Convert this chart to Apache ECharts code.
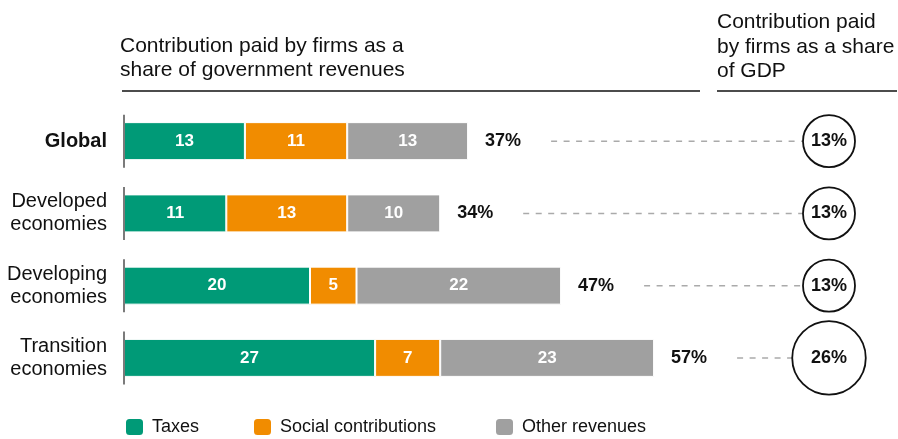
<!DOCTYPE html>
<html>
<head>
<meta charset="utf-8">
<script src="https://cdn.jsdelivr.net/npm/echarts@6/dist/echarts.min.js"></script>
<style>
html,body{margin:0;padding:0;background:#fff;}
#chart{width:898px;height:439px;}
</style>
</head>
<body>
<div id="chart"></div>
<script>
// ---- data ----
const categories = ['Global', 'Developed economies', 'Developing economies', 'Transition economies'];
const seriesNames = ['Taxes', 'Social contributions', 'Other revenues'];
const taxes = [13, 11, 20, 27];
const social = [11, 13, 5, 7];
const other = [13, 10, 22, 23];
const totals = [37, 34, 47, 57];
const gdpShare = [13, 13, 13, 26];
const leftTitle = 'Contribution paid by firms as a\nshare of government revenues';
const rightTitle = 'Contribution paid\nby firms as a share\nof GDP';

// ---- style / layout ----
const FONT = '"Liberation Sans", Arial, sans-serif';
const colors = ['#009a77', '#f18c00', '#a0a0a0'];
const CIRCLE_X = 829;
const BASE_SIZE = 52;
function circleSize(v) { return BASE_SIZE * Math.sqrt(v / gdpShare[0]); }

const chart = echarts.init(document.getElementById('chart'));

const barLabel = { show: true, position: 'inside', color: '#fff', fontWeight: 'bold', fontSize: 17, fontFamily: FONT };

function legendFor(name, left) {
  return {
    data: [name], left: left, top: 417, padding: 0,
    icon: 'roundRect', itemWidth: 19, itemHeight: 18,
    textStyle: { fontSize: 18, color: '#111', fontFamily: FONT, padding: [0, 0, 0, 3] },
    selectedMode: false
  };
}

const option = {
  animation: false,
  textStyle: { fontFamily: FONT },
  title: [
    { text: leftTitle, left: 120, top: 34, padding: 0,
      textStyle: { fontSize: 21, fontWeight: 'normal', color: '#111', lineHeight: 24, fontFamily: FONT } },
    { text: rightTitle, left: 717, top: 10, padding: 0,
      textStyle: { fontSize: 21, fontWeight: 'normal', color: '#111', lineHeight: 24.5, fontFamily: FONT } }
  ],
  graphic: [
    { type: 'line', shape: { x1: 122, y1: 91, x2: 700, y2: 91 }, style: { stroke: '#111', lineWidth: 1.5 } },
    { type: 'line', shape: { x1: 717, y1: 91, x2: 897, y2: 91 }, style: { stroke: '#111', lineWidth: 1.5 } }
  ],
  legend: [legendFor(seriesNames[0], 124), legendFor(seriesNames[1], 252), legendFor(seriesNames[2], 494)],
  grid: [
    { left: 124, top: 105, width: 744, height: 289 },
    { left: 799, top: 105, width: 60, height: 289 }
  ],
  xAxis: [
    { type: 'value', min: 0, max: 80, show: false, gridIndex: 0 },
    { type: 'category', data: ['GDP'], show: false, gridIndex: 1 }
  ],
  yAxis: [
    { type: 'category', data: categories, inverse: true, gridIndex: 0,
      axisLine: { show: false }, axisTick: { show: false },
      axisLabel: {
        margin: 17, color: '#111', fontSize: 20, fontFamily: FONT,
        formatter: function (v) {
          if (v === 'Global') return '{b|' + v + '}';
          return '{n|' + v.replace(' ', '\n') + '}';
        },
        rich: {
          b: { fontSize: 20, fontWeight: 'bold', color: '#111', fontFamily: FONT },
          n: { fontSize: 20, color: '#111', lineHeight: 23, align: 'right', fontFamily: FONT }
        }
      }
    },
    { type: 'category', data: categories, inverse: true, gridIndex: 1, show: false }
  ],
  series: [
    { name: seriesNames[0], type: 'bar', stack: 'rev', data: taxes, barWidth: 38,
      itemStyle: { color: colors[0], borderColor: '#fff', borderWidth: 1 }, label: barLabel },
    { name: seriesNames[1], type: 'bar', stack: 'rev', data: social, barWidth: 38,
      itemStyle: { color: colors[1], borderColor: '#fff', borderWidth: 1 }, label: barLabel },
    { name: seriesNames[2], type: 'bar', stack: 'rev', data: other, barWidth: 38,
      itemStyle: { color: colors[2], borderColor: '#fff', borderWidth: 1 }, label: barLabel },
    { // total labels placed after each stacked bar
      name: 'totals', type: 'custom', xAxisIndex: 0, yAxisIndex: 0, silent: true, clip: false,
      data: totals.map(function (t, i) { return [t, i]; }),
      encode: { x: 0, y: 1 },
      renderItem: function (params, api) {
        const p = api.coord([api.value(0), api.value(1)]);
        return { type: 'text', x: p[0] + 17, y: p[1],
          style: { text: totals[params.dataIndex] + '%', fill: '#111', font: 'bold 18px ' + FONT,
                   textAlign: 'left', textVerticalAlign: 'middle' } };
      }
    },
    { // dashed leader lines
      name: 'leaders', type: 'custom', xAxisIndex: 0, yAxisIndex: 0, silent: true, clip: false,
      data: totals.map(function (t, i) { return [t, i]; }),
      encode: { x: 0, y: 1 },
      renderItem: function (params, api) {
        const p = api.coord([api.value(0), api.value(1)]);
        const r = circleSize(gdpShare[params.dataIndex]) / 2;
        return { type: 'line', shape: { x1: p[0] + 83, y1: p[1], x2: CIRCLE_X - r, y2: p[1] },
          style: { stroke: '#aaaaaa', lineWidth: 1.5, lineDash: [6, 6.5] } };
      }
    },
    { // axis segments at each bar
      name: 'axisSeg', type: 'custom', xAxisIndex: 0, yAxisIndex: 0, silent: true, clip: false, z: 5,
      data: categories.map(function (c, i) { return [0, i]; }),
      encode: { x: 0, y: 1 },
      renderItem: function (params, api) {
        const p = api.coord([0, api.value(1)]);
        return { type: 'line', shape: { x1: p[0], y1: p[1] - 26.5, x2: p[0], y2: p[1] + 26.5 },
          style: { stroke: '#333', lineWidth: 1.3 } };
      }
    },
    { name: 'gdp', type: 'scatter', xAxisIndex: 1, yAxisIndex: 1, silent: true,
      data: gdpShare.map(function (v, i) { return [0, i, v]; }),
      symbol: 'circle',
      symbolSize: function (val) { return circleSize(val[2]); },
      itemStyle: { color: '#fff', borderColor: '#111', borderWidth: 1.8, opacity: 1 },
      label: { show: true, position: 'inside', color: '#111', fontWeight: 'bold', fontSize: 18, fontFamily: FONT,
        formatter: function (p) { return p.value[2] + '%'; } }
    }
  ]
};
chart.setOption(option);
</script>
</body>
</html>
